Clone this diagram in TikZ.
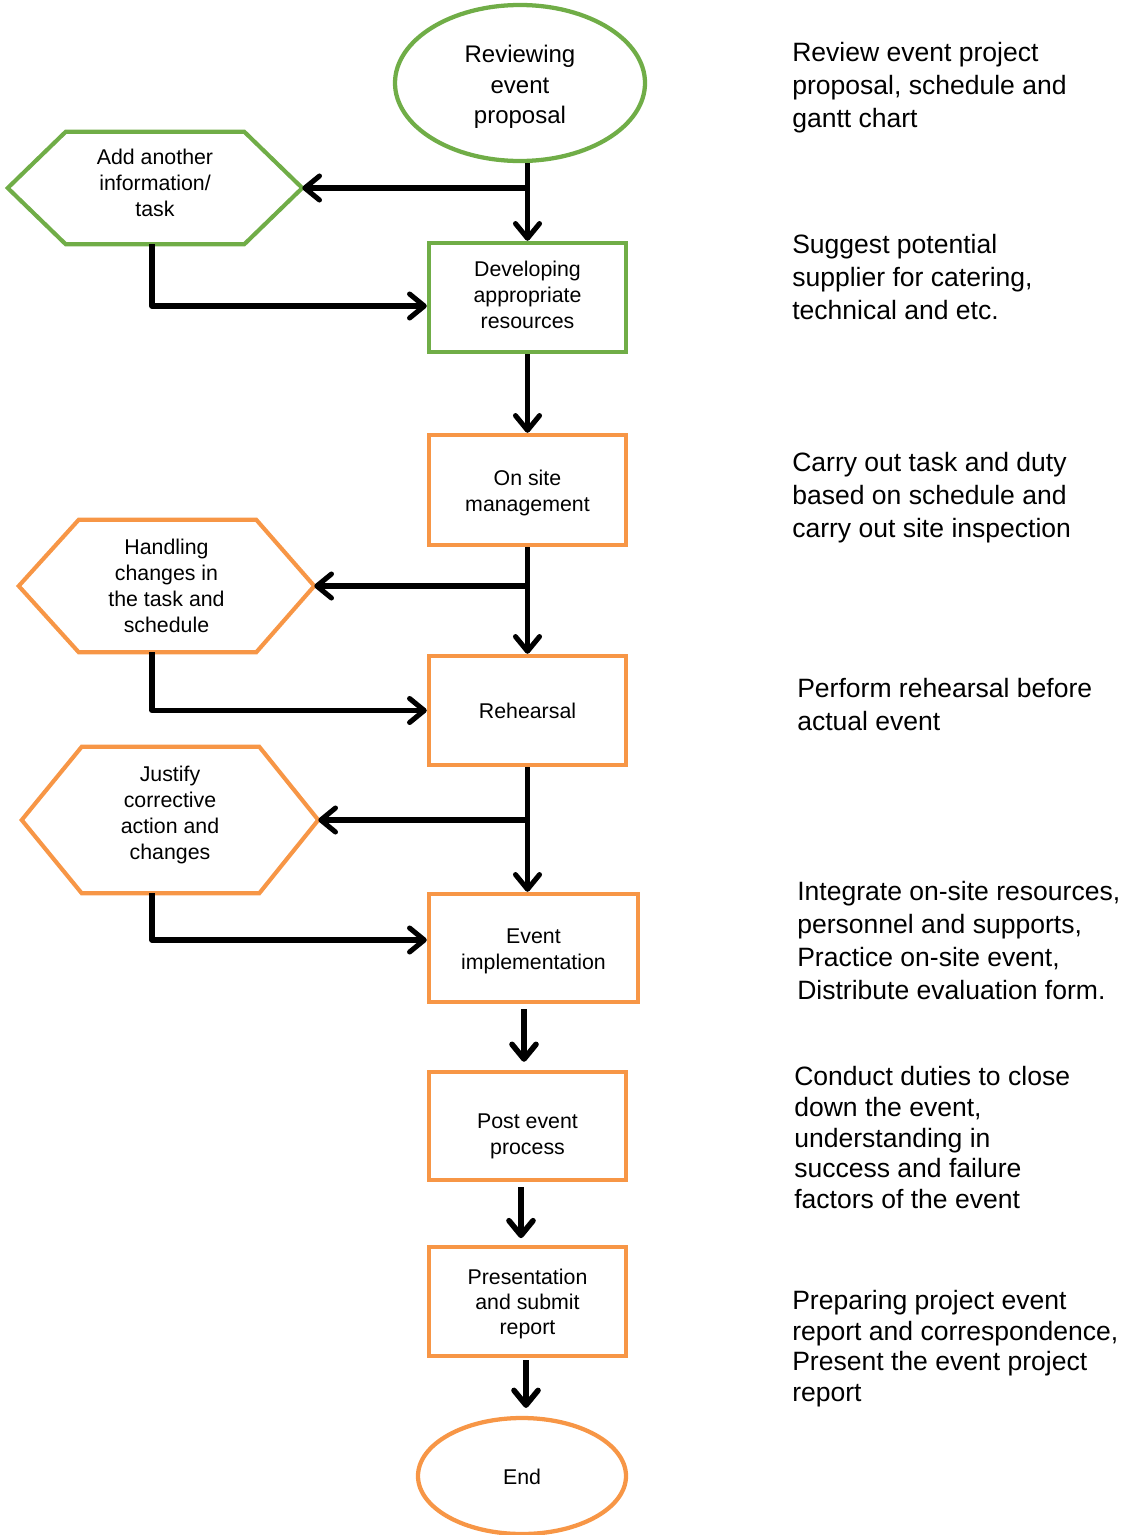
\documentclass[tikz,border=0pt]{standalone}
\usepackage{fontspec}
\setmainfont{Liberation Sans}
\usetikzlibrary{arrows.meta,calc,shapes.geometric}
\definecolor{grn}{HTML}{70AD47}
\definecolor{org}{HTML}{F79646}
\begin{document}
\begin{tikzpicture}[x=0.75pt,y=-0.75pt,
  box/.style={draw, line width=3.3pt, rectangle, inner sep=0pt,
    minimum width=147.75pt, minimum height=81.75pt},
  gbox/.style={box, draw=grn},
  obox/.style={box, draw=org},
  oval/.style={draw, line width=3.2pt, ellipse, inner sep=0pt},
  txt/.style={align=center, inner sep=0pt, font=\fontsize{16}{19.5}\selectfont},
  hexnode/.style={rectangle, inner sep=0pt},
  hexline/.style={line width=3.1pt, line join=miter},
  flow/.style={line width=3.8pt, line join=round, -{Straight Barb[length=11pt,width=18pt,line join=round,line cap=round]}},
  detached/.style={flow, line width=4.2pt},
  note/.style={anchor=north west, align=left, inner sep=0pt, font=\fontsize{19.9}{24.75}\selectfont}
]
\useasboundingbox (0,0) rectangle (1122,1535);

% main column shapes
\node[oval, draw=grn, minimum width=187.5pt, minimum height=117pt] (rev) at (520,83) {};
\node[gbox] (dev) at (527.5,297.5) {};
\node[obox, minimum height=82.5pt] (onsite) at (527.5,490) {};
\node[obox] (reh) at (527.5,710.5) {};
\node[obox, minimum width=156.75pt, minimum height=81pt] (evt) at (533.5,948) {};
\node[obox, minimum height=81pt] (post) at (527.5,1126) {};
\node[obox] (pres) at (527.5,1301.5) {};
\node[oval, draw=org, minimum width=156pt, minimum height=87pt] (end) at (522,1476) {};

% main column texts
\node[txt, font=\fontsize{18}{23}\selectfont] (revt) at ($(rev.center)+(0,4)$) {Reviewing\\event\\proposal};
\node[txt] (devt) at ($(dev.center)+(0,-3)$) {Developing\\appropriate\\resources};
\node[txt] (onsitet) at ($(onsite.center)+(0,3)$) {On site\\management};
\node[txt] (reht) at (reh.center) {Rehearsal};
\node[txt] (evtt) at ($(evt.center)+(0,3)$) {Event\\implementation};
\node[txt] (postt) at ($(post.center)+(0,10.5)$) {Post event\\process};
\node[txt, font=\fontsize{16}{18.6}\selectfont] (prest) at ($(pres.center)+(0,2.5)$) {Presentation\\and submit\\report};
\node[txt] (endt) at ($(end.center)+(0,1)$) {End};

% hexagons
\node[hexnode, minimum width=220.5pt, minimum height=84pt] (h1) at (155,188) {};
\draw[hexline, grn] (h1.west) -- ($(h1.north west)+(58,0)$) -- ($(h1.north east)+(-58,0)$)
  -- (h1.east) -- ($(h1.south east)+(-58,0)$) -- ($(h1.south west)+(58,0)$) -- cycle;
\node[txt] (h1t) at ($(h1.center)+(0,-5)$) {Add another\\information/\\task};
\node[hexnode, minimum width=221.25pt, minimum height=99pt] (h2) at (166.5,586) {};
\draw[hexline, org] (h2.west) -- ($(h2.north west)+(60,0)$) -- ($(h2.north east)+(-58,0)$)
  -- (h2.east) -- ($(h2.south east)+(-58,0)$) -- ($(h2.south west)+(60,0)$) -- cycle;
\node[txt] (h2t) at (h2.center) {Handling\\changes in\\the task and\\schedule};
\node[hexnode, minimum width=222pt, minimum height=109.5pt] (h3) at (170,820) {};
\draw[hexline, org] (h3.west) -- ($(h3.north west)+(60,0)$) -- ($(h3.north east)+(-59,0)$)
  -- (h3.east) -- ($(h3.south east)+(-59,0)$) -- ($(h3.south west)+(60,0)$) -- cycle;
\node[txt] (h3t) at ($(h3.center)+(0,-5.5)$) {Justify\\corrective\\action and\\changes};

% connectors
\draw[flow] (dev.north |- rev.south) -- (dev.north);
\draw[flow] (dev.north |- h1.east) -- (h1.east);
\draw[flow] ($(h1.south)+(-3,0)$) |- ($(dev.west)+(0,8.5)$);
\draw[flow] (dev.south) -- (onsite.north);
\draw[flow] (onsite.south) -- (reh.north);
\draw[flow] (onsite.south |- h2.east) -- (h2.east);
\draw[flow] ($(h2.south)+(-14.5,0)$) |- (reh.west);
\draw[flow] (reh.south) -- (reh.south |- evt.north);
\draw[flow] (reh.south |- h3.east) -- (h3.east);
\draw[flow] ($(h3.south)+(-18,0)$) |- ($(evt.west)+(0,-8)$);
% detached arrows
\draw[detached, shorten <=3.75pt, shorten >=6pt] ($(evt.south)+(-9.5,0)$) -- ($(post.north)+(-3.5,0)$);
\draw[detached, shorten <=3.75pt, shorten >=5pt] ($(post.south)+(-6.5,0)$) -- ($(pres.north)+(-6.5,0)$);
\draw[detached, shorten <=1.5pt, shorten >=6pt] ($(pres.south)+(-1.5,0)$) -- ($(pres.south |- end.north)+(-1.5,0)$);

% notes
\node[note] (n1) at (792,42) {Review event project\\proposal, schedule and\\gantt chart};
\node[note] (n2) at (792,234) {Suggest potential\\supplier for catering,\\technical and etc.};
\node[note] (n3) at (792,452) {Carry out task and duty\\based on schedule and\\carry out site inspection};
\node[note] (n4) at (797,678) {Perform rehearsal before\\actual event};
\node[note] (n5) at (797,881) {Integrate on-site resources,\\personnel and supports,\\Practice on-site event,\\Distribute evaluation form.};
\node[note, font=\fontsize{19.9}{23.1}\selectfont] (n6) at (794,1066) {Conduct duties to close\\down the event,\\understanding in\\success and failure\\factors of the event};
\node[note, font=\fontsize{19.9}{23}\selectfont] (n7) at (792,1290) {Preparing project event\\report and correspondence,\\Present the event project\\report};
\end{tikzpicture}
\end{document}
